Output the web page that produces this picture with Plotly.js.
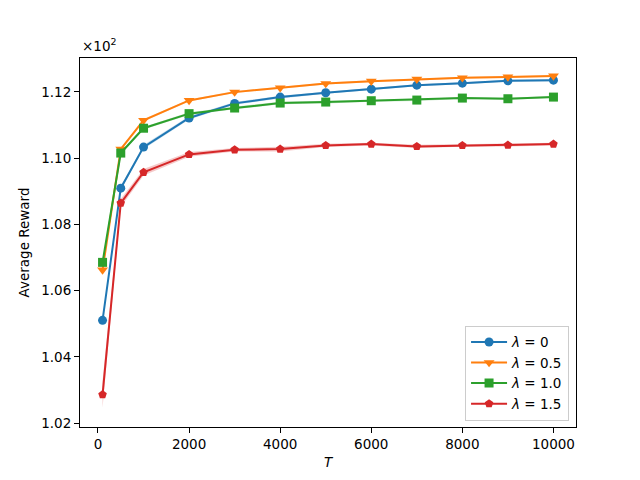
<!DOCTYPE html>
<html>
<head>
<meta charset="utf-8">
<script src="https://cdn.plot.ly/plotly-3.0.1.min.js"></script>
<style>html,body{margin:0;padding:0;background:#fff}#chart{width:640px;height:480px}</style>
</head>
<body>
<div id="chart"></div>
<script>
const T = [100, 500, 1000, 2000, 3000, 4000, 5000, 6000, 7000, 8000, 9000, 10000];
const seriesNames = ["<i>λ</i> = 0", "<i>λ</i> = 0.5", "<i>λ</i> = 1.0", "<i>λ</i> = 1.5"];
const rewardL0  = [1.0510, 1.0909, 1.1033, 1.1121, 1.1165, 1.1184, 1.1197, 1.1208, 1.1220, 1.1226, 1.1233, 1.1235];
const rewardL05 = [1.0662, 1.1027, 1.1114, 1.1174, 1.1199, 1.1212, 1.1225, 1.1232, 1.1238, 1.1242, 1.1245, 1.1248];
const rewardL10 = [1.0685, 1.1015, 1.1090, 1.1134, 1.1151, 1.1166, 1.1169, 1.1173, 1.1175, 1.1181, 1.1179, 1.1184];
const rewardL15 = [1.0286, 1.0864, 1.0957, 1.1011, 1.1025, 1.1027, 1.1038, 1.1042, 1.1035, 1.1038, 1.1039, 1.1042];
const stdL0  = [0.0006, 0.0006, 0.0006, 0.0005, 0.0004, 0.0004, 0.0003, 0.0003, 0.0003, 0.0003, 0.0003, 0.0003];
const stdL05 = [0.0004, 0.0004, 0.0004, 0.0003, 0.0003, 0.0003, 0.0003, 0.0003, 0.0003, 0.0003, 0.0003, 0.0003];
const stdL10 = [0.0005, 0.0005, 0.0004, 0.0004, 0.0004, 0.0004, 0.0004, 0.0003, 0.0003, 0.0003, 0.0003, 0.0003];
const stdL15 = [0.0040, 0.0012, 0.0010, 0.0007, 0.0005, 0.0007, 0.0005, 0.0004, 0.0005, 0.0004, 0.0004, 0.0004];
const colors = ["#1f77b4", "#ff7f0e", "#2ca02c", "#d62728"];
const bandColors = ["rgba(31,119,180,0.25)", "rgba(255,127,14,0.25)", "rgba(44,160,44,0.25)", "rgba(214,39,40,0.25)"];
const symbols = ["circle", "triangle-down", "square", "pentagon"];

const allRewards = [rewardL0, rewardL05, rewardL10, rewardL15];
const allStd = [stdL0, stdL05, stdL10, stdL15];

const traces = [];
allRewards.forEach((r, i) => {
  const s = allStd[i];
  traces.push({
    x: T, y: r.map((v, k) => v - s[k]), mode: "lines", line: {width: 0, color: bandColors[i]},
    showlegend: false, hoverinfo: "skip", type: "scatter"
  });
  traces.push({
    x: T, y: r.map((v, k) => v + s[k]), mode: "lines", line: {width: 0, color: bandColors[i]},
    fill: "tonexty", fillcolor: bandColors[i], showlegend: false, hoverinfo: "skip", type: "scatter"
  });
});
allRewards.forEach((r, i) => {
  traces.push({
    x: T, y: r, name: seriesNames[i], type: "scatter", mode: "lines+markers",
    line: {color: colors[i], width: 2},
    marker: {symbol: symbols[i], size: symbols[i] === "triangle-down" ? 9.5 : 9, color: colors[i], line: {width: 0}}
  });
});

const font = {family: "DejaVu Sans", size: 13.5, color: "#000"};
const layout = {
  width: 640, height: 480,
  margin: {l: 80, r: 64, t: 57.6, b: 52.8},
  paper_bgcolor: "#fff", plot_bgcolor: "#fff",
  font: font,
  showlegend: true,
  xaxis: {
    range: [-395, 10495], tickvals: [0, 2000, 4000, 6000, 8000, 10000],
    ticktext: ["0", "2000", "4000", "6000", "8000", "10000"],
    showgrid: false, zeroline: false, showline: true, linecolor: "#000", linewidth: 1, mirror: true,
    ticks: "outside", ticklen: 5, tickwidth: 1, tickcolor: "#000",
    title: {text: "<i>T</i>", font: font, standoff: 6}
  },
  yaxis: {
    range: [1.0188, 1.1302], tickvals: [1.02, 1.04, 1.06, 1.08, 1.10, 1.12],
    ticktext: ["1.02", "1.04", "1.06", "1.08", "1.10", "1.12"],
    showgrid: false, zeroline: false, showline: true, linecolor: "#000", linewidth: 1, mirror: true,
    ticks: "outside", ticklen: 5, tickwidth: 1, tickcolor: "#000",
    title: {text: "Average Reward", font: font, standoff: 8}
  },
  legend: {
    x: 0.986, y: 0.017, xanchor: "right", yanchor: "bottom", traceorder: "normal",
    bgcolor: "rgba(255,255,255,0.8)", bordercolor: "#cccccc", borderwidth: 1,
    font: font, tracegroupgap: 0, itemwidth: 36
  },
  annotations: [{
    xref: "paper", yref: "paper", x: 0, y: 1, xanchor: "left", yanchor: "bottom",
    yshift: 2, text: "×10<sup>2</sup>", showarrow: false, font: font
  }]
};
Plotly.newPlot("chart", traces, layout, {displayModeBar: false, staticPlot: true});
</script>
</body>
</html>
